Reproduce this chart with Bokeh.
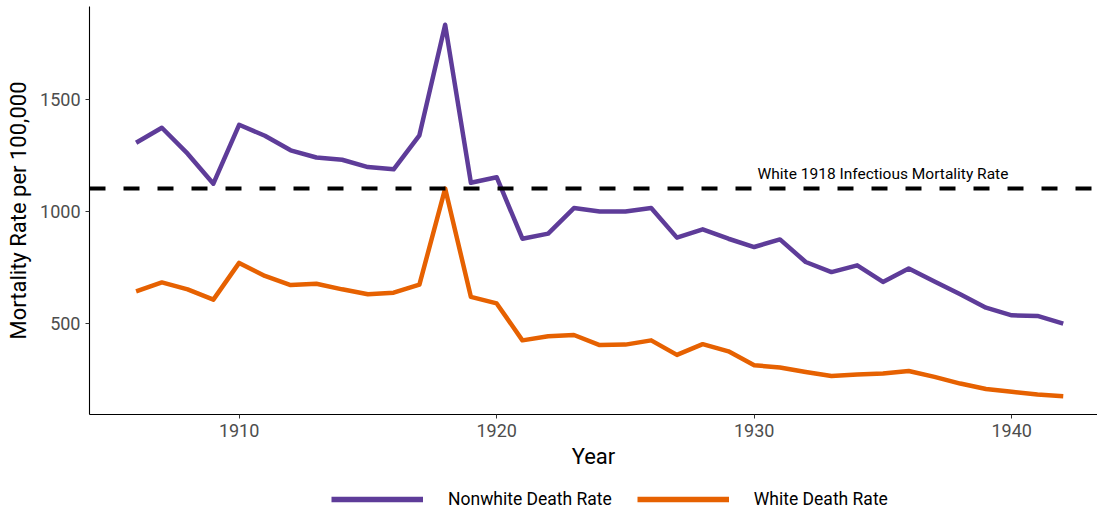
from bokeh.plotting import figure
from bokeh.layouts import column
from bokeh.models import Span, Legend, LegendItem, Range1d, FixedTicker, Label
from bokeh.embed import file_html
from bokeh.resources import INLINE

years = list(range(1906, 1943))
nonwhite = [1308, 1375, 1259, 1125, 1388, 1339, 1274, 1242, 1232, 1199, 1189, 1341, 1835,
            1129, 1154, 879, 902, 1016, 1001, 1001, 1016, 884, 921, 879, 842, 876, 775,
            730, 760, 686, 746, 688, 631, 571, 537, 534, 500]
white = [644, 684, 653, 607, 771, 713, 672, 678, 653, 631, 638, 674, 1103,
         619, 590, 425, 443, 449, 404, 406, 425, 360, 408, 376, 314, 304, 284,
         266, 272, 277, 288, 262, 232, 208, 195, 183, 175]
x_ticks = [1910, 1920, 1930, 1940]
y_ticks = [500, 1000, 1500]
ref_label = "White 1918 Infectious Mortality Rate"
ref_value = white[years.index(1918)]
series_names = ["Nonwhite Death Rate", "White Death Rate"]
colors = ["#5E3C99", "#E66101"]

FONT = "Roboto"
W = 1097

p = figure(width=W, height=476, output_backend="svg", toolbar_location=None,
           x_range=Range1d(1904.19, 1943.33), y_range=Range1d(93.8, 1916.5),
           min_border_left=89, min_border_right=0, min_border_top=6, min_border_bottom=62)
p.outline_line_color = None
p.xgrid.visible = False
p.ygrid.visible = False
p.background_fill_color = "white"
p.border_fill_color = "white"

p.line(years, nonwhite, line_color=colors[0], line_width=4.5, line_join="round")
p.line(years, white, line_color=colors[1], line_width=4.5, line_join="round")

span = Span(location=ref_value, dimension="width", line_color="black", line_width=4,
            line_dash="16 18")
p.add_layout(span)

lab = Label(x=1935, y=1170, text=ref_label, text_align="center", text_baseline="alphabetic",
            text_font=FONT, text_font_size="15.5px", text_color="black")
p.add_layout(lab)

for ax in (p.xaxis[0], p.yaxis[0]):
    ax.axis_line_color = "black"
    ax.axis_line_width = 1.1
    ax.major_tick_line_color = "#333333"
    ax.major_tick_in = 0
    ax.major_tick_out = 4
    ax.minor_tick_line_color = None
    ax.major_label_text_font = FONT
    ax.major_label_text_font_size = "18px"
    ax.major_label_text_color = "#4D4D4D"
    ax.axis_label_text_font = FONT
    ax.axis_label_text_font_size = "22px"
    ax.axis_label_text_font_style = "normal"
    ax.axis_label_text_color = "black"

p.xaxis.ticker = FixedTicker(ticks=x_ticks)
p.yaxis.ticker = FixedTicker(ticks=y_ticks)
p.xaxis.axis_label = "Year"
p.yaxis.axis_label = "Mortality Rate per 100,000"
p.xaxis.axis_label_standoff = 4
p.yaxis.axis_label_standoff = 6

# legend strip below the plot (frame aligned with the plot frame above)
lg = figure(width=W, height=33, output_backend="svg", toolbar_location=None,
            x_range=Range1d(0, 1), y_range=Range1d(0, 1),
            min_border=0, x_axis_type=None, y_axis_type=None)
lg.outline_line_color = None
lg.xgrid.visible = False
lg.ygrid.visible = False
k1 = lg.line(x=years[:1], y=nonwhite[:1], line_color=colors[0], line_width=5.5)
k2 = lg.line(x=years[:1], y=white[:1], line_color=colors[1], line_width=5.5)
legend = Legend(items=[LegendItem(label=series_names[0], renderers=[k1]),
                       LegendItem(label=series_names[1], renderers=[k2])],
                orientation="horizontal", location=(242, 0),
                glyph_width=92, glyph_height=20, label_standoff=25, spacing=25,
                padding=0, margin=0, border_line_color=None, background_fill_alpha=0,
                label_text_font=FONT, label_text_font_size="17.5px", label_text_color="black")
lg.add_layout(legend)

layout = column(p, lg, spacing=0)
open("out.html", "w").write(file_html(layout, INLINE))
